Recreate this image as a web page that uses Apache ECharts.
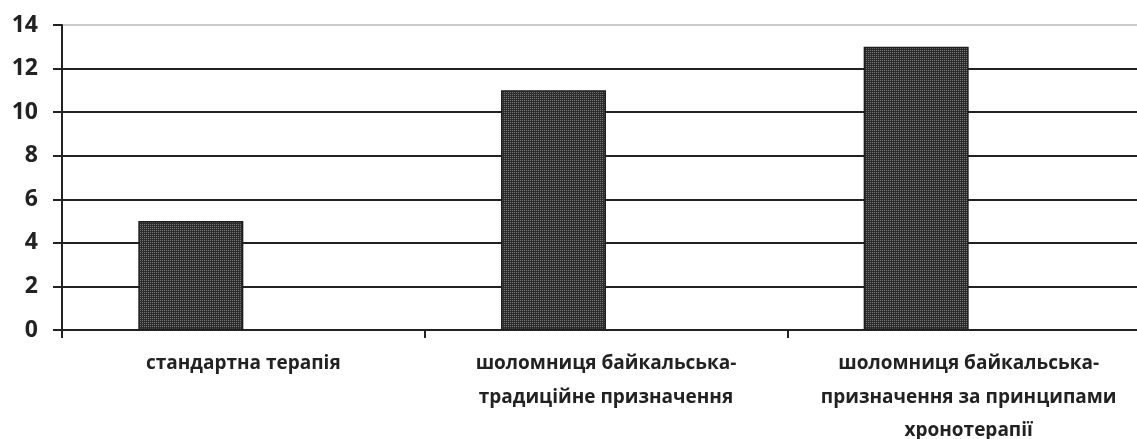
<!DOCTYPE html>
<html>
<head>
<meta charset="utf-8">
<script src="https://cdn.jsdelivr.net/npm/echarts@6/dist/echarts.min.js"></script>
<style>html,body{margin:0;padding:0;background:#fff}#c{width:1137px;height:439px}</style>
</head>
<body>
<div id="c"></div>
<script>
const categories = ['стандартна терапія', 'шоломниця байкальська-\nтрадиційне призначення', 'шоломниця байкальська-\nпризначення за принципами\nхронотерапії'];
const values = [5, 11, 13];
const emptySeries = [null, null, null];
const yTicks = {min: 0, max: 14, interval: 2};

// fine dotted texture for the bars
const pc = document.createElement('canvas');
pc.width = 2; pc.height = 2;
const g = pc.getContext('2d');
g.fillStyle = '#2c2c2c'; g.fillRect(0, 0, 2, 2);
g.fillStyle = '#767676'; g.fillRect(0, 0, 1, 1);

const chart = echarts.init(document.getElementById('c'), null, {renderer: 'canvas'});
const font = '"Open Sans", "Liberation Sans", sans-serif';
chart.setOption({
  animation: false,
  grid: {left: 62, top: 25, width: 1088, height: 305, containLabel: false, outerBoundsMode: 'none'},
  xAxis: {
    type: 'category',
    data: categories,
    boundaryGap: true,
    axisLine: {lineStyle: {color: '#222', width: 2}},
    axisTick: {show: true, length: 8, lineStyle: {color: '#222', width: 2}},
    axisLabel: {interval: 0, margin: 17, fontFamily: font, fontWeight: 'bold', fontSize: 19, color: '#222', lineHeight: 33.5}
  },
  yAxis: {
    type: 'value',
    min: yTicks.min, max: yTicks.max, interval: yTicks.interval,
    axisLine: {show: true, lineStyle: {color: '#222', width: 2}},
    axisTick: {show: true, length: 9, lineStyle: {color: '#222', width: 2}},
    axisLabel: {margin: 24, fontFamily: font, fontWeight: 'bold', fontSize: 23, color: '#222'},
    splitLine: {show: true, lineStyle: {color: ['#222','#222','#222','#222','#222','#222','#222','#cccccc'], width: 2}}
  },
  series: [
    {type: 'bar', data: values, barWidth: 105, barGap: '0%',
     itemStyle: {color: {image: pc, repeat: 'repeat'}, borderColor: '#1e1e1e', borderWidth: 1.5}},
    {type: 'bar', data: emptySeries, barWidth: 105}
  ]
});
</script>
</body>
</html>
